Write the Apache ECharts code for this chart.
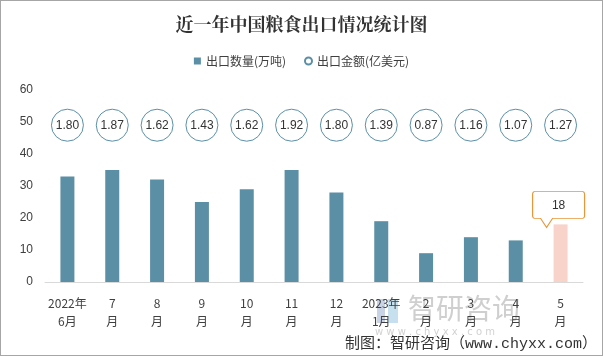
<!DOCTYPE html>
<html><head><meta charset="utf-8">
<script src="https://cdn.jsdelivr.net/npm/echarts@6/dist/echarts.min.js"></script>
<style>html,body{margin:0;padding:0;background:#fff}#c{width:603px;height:356px;box-sizing:border-box;border:1px solid #a6a6a6}</style>
</head><body><div id="c"></div>
<script>
const categories = ['2022年\n6月','7\n月','8\n月','9\n月','10\n月','11\n月','12\n月','2023年\n1月','2\n月','3\n月','4\n月','5\n月'];
const volume = [33, 35, 32, 25, 29, 35, 28, 19, 9, 14, 13, 18];
const amount = [1.80, 1.87, 1.62, 1.43, 1.62, 1.92, 1.80, 1.39, 0.87, 1.16, 1.07, 1.27];
const yTicks = {min: 0, max: 60, interval: 10};
const circleRow = 49;

const chart = echarts.init(document.getElementById('c'));
const barColor = '#5B8FA6';
const last = volume.length - 1;
chart.setOption({
  animation: false,
  title: {text: '近一年中国粮食出口情况统计图', left: 'center', top: 9,
    textStyle: {fontFamily: 'Noto Serif CJK SC, Noto Sans CJK SC', fontSize: 18, fontWeight: 'bold', color: '#333'}},
  legend: {top: 49, left: 'center', itemWidth: 7, itemHeight: 7, itemGap: 18,
    textStyle: {fontSize: 12, color: '#404040', fontFamily: 'Noto Sans CJK SC'},
    data: [{name: '出口数量(万吨)', icon: 'rect'}, {name: '出口金额(亿美元)', icon: 'circle'}]},
  grid: {left: 44, right: 19, top: 89, bottom: 73},
  xAxis: {type: 'category', data: categories,
    axisLine: {lineStyle: {color: '#d9d9d9'}}, axisTick: {show: false},
    axisLabel: {interval: 0, color: '#404040', fontSize: 12, lineHeight: 18, margin: 12, fontFamily: 'Noto Sans CJK SC'}},
  yAxis: {type: 'value', min: yTicks.min, max: yTicks.max, interval: yTicks.interval,
    axisLine: {show: false}, axisTick: {show: false}, splitLine: {show: false},
    axisLabel: {color: '#404040', fontSize: 12, margin: 12}},
  series: [
    {name: '出口数量(万吨)', type: 'bar', barWidth: 14,
      itemStyle: {color: barColor},
      data: volume.map((v, i) => i === last ? {value: v, itemStyle: {color: '#F8D3C9'}} : v),
      markPoint: {
        symbol: 'path://M3,0 L49,0 Q52,0 52,3 L52,24 Q52,27 49,27 L20,27 L14,36 L8,27 L3,27 Q0,27 0,24 L0,3 Q0,0 3,0 Z',
        symbolSize: [52, 36], symbolKeepAspect: false, symbolOffset: [-2, -15],
        itemStyle: {color: '#fff', borderColor: '#E8963A', borderWidth: 1},
        label: {show: true, formatter: '{c}', color: '#333', fontSize: 12, offset: [0, -4]},
        data: [{coord: [last, volume[last]], value: volume[last]}]
      }},
    {name: '出口金额(亿美元)', type: 'scatter', symbol: 'circle', symbolSize: 32,
      itemStyle: {color: '#fff', borderColor: barColor, borderWidth: 1, opacity: 1},
      label: {show: true, position: 'inside', color: '#333', fontSize: 12,
        formatter: p => p.data[2].toFixed(2)},
      data: amount.map((a, i) => [i, circleRow, a])}
  ],
  graphic: [
    {type: 'rect', left: 376, top: 298, shape: {width: 8, height: 24}, style: {fill: '#c9d3e6'}, silent: true},
    {type: 'rect', left: 387, top: 298, shape: {width: 10, height: 24}, style: {fill: '#c6e0f0'}, silent: true},
    {type: 'text', left: 407, top: 293, style: {text: '智研咨询', fill: '#cfcfcf', font: '28px "Noto Sans CJK SC"'}, silent: true},
    {type: 'text', left: 374, top: 326, style: {text: 'w w w . c h y x x . c o m', fill: '#d2d2d2', font: '10px "DejaVu Sans"'}, silent: true},
    {type: 'text', right: 5, top: 336, style: {text: '制图：智研咨询（www.chyxx.com）', fill: '#333', font: '15px "Liberation Mono", "Noto Sans CJK SC"'}}
  ]
});
</script></body></html>
